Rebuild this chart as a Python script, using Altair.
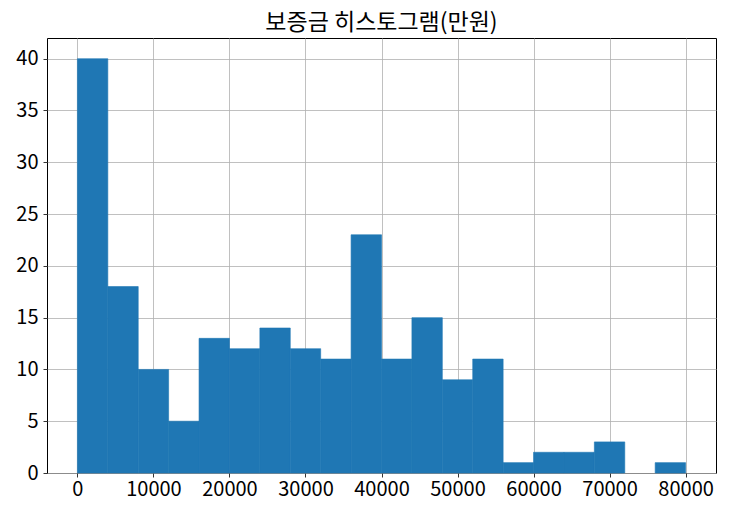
import altair as alt
import pandas as pd

bin_start = [0, 4000, 8000, 12000, 16000, 20000, 24000, 28000, 32000, 36000,
             40000, 44000, 48000, 52000, 56000, 60000, 64000, 68000, 72000, 76000]
bin_end = [s + 4000 for s in bin_start]
counts = [40, 18, 10, 5, 13, 12, 14, 12, 11, 23, 11, 15, 9, 11, 1, 2, 2, 3, 0, 1]

df = pd.DataFrame({"start": bin_start, "end": bin_end, "count": counts})

FONT = "Noto Sans CJK KR"

chart = alt.Chart(df).transform_filter(
    alt.datum["count"] > 0
).mark_rect(color="#1f77b4", stroke="#1f77b4", strokeWidth=0.6).encode(
    x=alt.X("start:Q", scale=alt.Scale(domain=[-4000, 84000], nice=False, zero=False),
            axis=alt.Axis(values=[0, 10000, 20000, 30000, 40000, 50000, 60000, 70000, 80000],
                          format="d", title=None, labelPadding=2)),
    x2="end:Q",
    y=alt.Y("count:Q", scale=alt.Scale(domain=[0, 42], nice=False),
            axis=alt.Axis(values=[0, 5, 10, 15, 20, 25, 30, 35, 40], title=None, labelPadding=5)),
    y2=alt.datum(0),
).properties(
    width=669, height=435,
    title=alt.Title("보증금 히스토그램(만원)", font=FONT, fontSize=23, fontWeight="normal",
                    color="#000000", anchor="middle", offset=3),
    autosize=alt.AutoSizeParams(type="none"),
    padding={"left": 39, "top": 30, "right": 6, "bottom": 30},
).configure_axis(
    grid=True, gridColor="#b0b0b0", gridWidth=0.8, zindex=1,
    domain=False, tickColor="#000000", tickSize=4, tickWidth=0.8,
    labelFont=FONT, labelFontSize=20, labelColor="#000000",
).configure_view(
    stroke="#000000", strokeWidth=1,
)

chart.save("out.html", embed_options={"renderer": "svg", "actions": False})
